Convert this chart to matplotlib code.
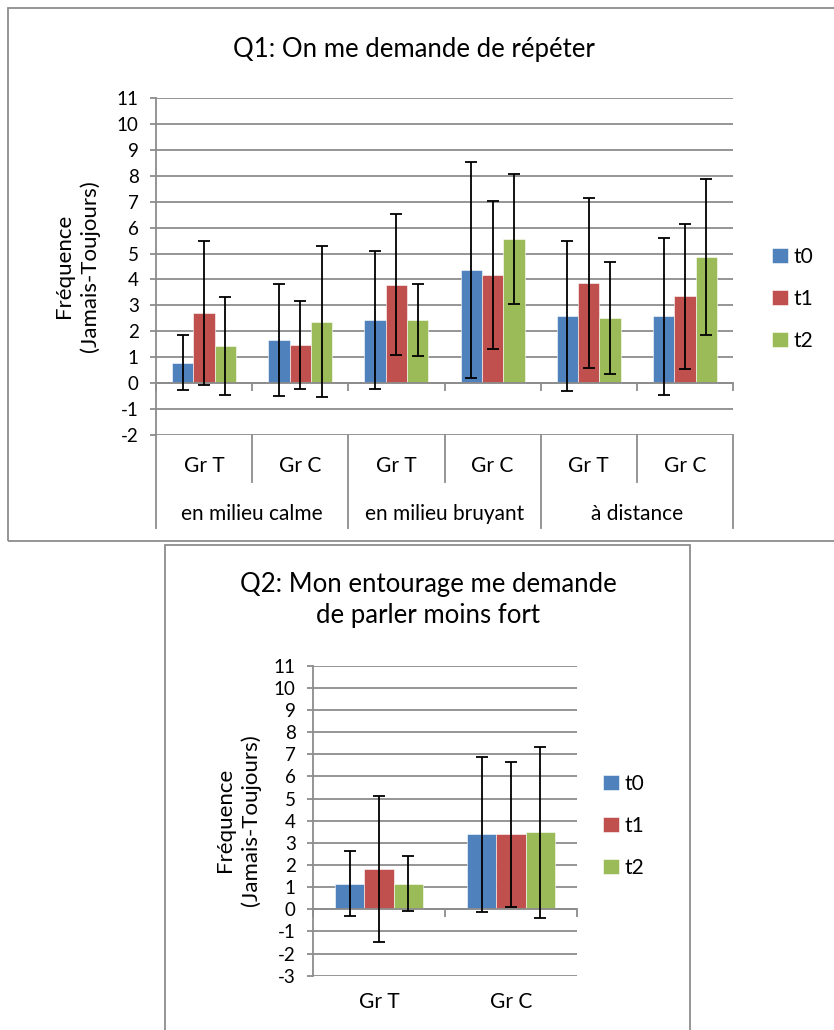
import numpy as np
import matplotlib
matplotlib.use("Agg")
import matplotlib.pyplot as plt
from matplotlib import transforms
from matplotlib.lines import Line2D
from matplotlib.patches import Rectangle

plt.rcParams['font.family'] = ['Lato', 'DejaVu Sans']
plt.rcParams['axes.unicode_minus'] = False

# Q1 data
q1_groups = ["Gr T", "Gr C", "Gr T", "Gr C", "Gr T", "Gr C"]
q1_conditions = ["en milieu calme", "en milieu bruyant", "à distance"]
q1_t0 = [0.80, 1.68, 2.44, 4.37, 2.60, 2.58]
q1_t1 = [2.71, 1.48, 3.80, 4.18, 3.88, 3.36]
q1_t2 = [1.44, 2.37, 2.44, 5.57, 2.52, 4.86]
q1_t0_err = [1.07, 2.16, 2.65, 4.17, 2.88, 3.03]
q1_t1_err = [2.79, 1.71, 2.72, 2.86, 3.27, 2.79]
q1_t2_err = [1.87, 2.91, 1.37, 2.50, 2.16, 3.00]

# Q2 data
q2_groups = ["Gr T", "Gr C"]
q2_t0 = [1.16, 3.39]
q2_t1 = [1.81, 3.39]
q2_t2 = [1.16, 3.48]
q2_t0_err = [1.47, 3.50]
q2_t1_err = [3.29, 3.27]
q2_t2_err = [1.25, 3.86]

series_names = ["t0", "t1", "t2"]
colors = ["#4F81BD", "#C0504D", "#9BBB59"]
grid_col = "#8C8C8C"
frame_col = "#8C8C8C"

W, H = 834, 1030
fig = plt.figure(figsize=(W / 100, H / 100), dpi=100)


def fy(y):
    return 1 - y / H


def px_axes(x0, y0, x1, y1):
    return fig.add_axes([x0 / W, 1 - y1 / H, (x1 - x0) / W, (y1 - y0) / H])


# outer chart frames
fig.add_artist(Rectangle((8 / W, fy(541)), 1.0, (541 - 8) / H, transform=fig.transFigure,
                         fill=False, ec=frame_col, lw=1.3))
fig.add_artist(Rectangle((165 / W, fy(1040)), (690 - 165) / W, (1040 - 545) / H,
                         transform=fig.transFigure, fill=False, ec=frame_col, lw=1.3))


def draw_bars(ax, vals, errs, ymin):
    n = len(vals[0])
    x = np.arange(n)
    w = 0.222
    for k in range(3):
        xs = x + (k - 1) * w
        ax.bar(xs, vals[k], width=w, color=colors[k], label=series_names[k],
               edgecolor="white", linewidth=0.4, zorder=2)
        ax.errorbar(xs, vals[k], yerr=errs[k], fmt='none', ecolor='black',
                    elinewidth=1.3, capsize=4.6, capthick=1.3, zorder=3)
    ax.set_xlim(-0.5, n - 0.5)
    ax.set_ylim(ymin, 11)
    ax.set_yticks(range(ymin, 12))
    ax.set_axisbelow(True)
    ax.yaxis.grid(True, color=grid_col, lw=1.3)
    for s in ["top", "right"]:
        ax.spines[s].set_visible(False)
    ax.spines["left"].set_color(grid_col)
    ax.spines["left"].set_linewidth(1.3)
    ax.spines["bottom"].set_position(("data", 0))
    ax.spines["bottom"].set_color(grid_col)
    ax.spines["bottom"].set_linewidth(1.3)
    ax.set_xticks(np.arange(-0.5, n))
    ax.tick_params(axis="x", direction="out", length=5.5, width=1.3, color=grid_col,
                   labelbottom=False)
    ax.tick_params(axis="y", direction="out", length=4.5, width=1.3, color=grid_col,
                   pad=8, labelsize=13.5)
    return x


# ---------- Q1 ----------
ax1 = px_axes(156, 97.7, 733, 435.3)
x1 = draw_bars(ax1, [q1_t0, q1_t1, q1_t2], [q1_t0_err, q1_t1_err, q1_t2_err], -2)
fig.text(414 / W, fy(50), "Q1: On me demande de répéter", ha="center", va="center", fontsize=18.5)
fig.text(77 / W, fy(266), "Fréquence\n(Jamais-Toujours)", rotation=90, ha="center",
         va="center", fontsize=16, linespacing=1.3, multialignment="center")

tr1 = transforms.blended_transform_factory(ax1.transData, fig.transFigure)
for i, lab in enumerate(q1_groups):
    ax1.text(i, fy(466), lab, transform=tr1, ha="center", va="center", fontsize=15)
for j, lab in enumerate(q1_conditions):
    ax1.text(2 * j + 0.5, fy(514), lab, transform=tr1, ha="center", va="center", fontsize=15)
for b in np.arange(-0.5, len(q1_groups)):
    bottom = 528 if int(b + 0.5) % 2 == 0 else 482
    fig.add_artist(Line2D([b, b], [fy(435.3), fy(bottom)], transform=tr1,
                          color=grid_col, lw=1.3))

ax1.legend(loc="center left", bbox_to_anchor=(772 / W, fy(299)),
           bbox_transform=fig.transFigure, frameon=False, fontsize=15,
           handlelength=0.75, handleheight=0.75, handletextpad=0.3,
           labelspacing=1.05, borderpad=0, borderaxespad=0)

# ---------- Q2 ----------
ax2 = px_axes(313, 665.7, 577, 975.7)
x2 = draw_bars(ax2, [q2_t0, q2_t1, q2_t2], [q2_t0_err, q2_t1_err, q2_t2_err], -3)
fig.text(428 / W, fy(600), "Q2: Mon entourage me demande\nde parler moins fort",
         ha="center", va="center", fontsize=18.5, linespacing=1.3)
fig.text(238 / W, fy(820), "Fréquence\n(Jamais-Toujours)", rotation=90, ha="center",
         va="center", fontsize=16, linespacing=1.3, multialignment="center")
tr2 = transforms.blended_transform_factory(ax2.transData, fig.transFigure)
for i, lab in enumerate(q2_groups):
    ax2.text(i, fy(1002), lab, transform=tr2, ha="center", va="center", fontsize=15)

ax2.legend(loc="center left", bbox_to_anchor=(603 / W, fy(826)),
           bbox_transform=fig.transFigure, frameon=False, fontsize=15,
           handlelength=0.75, handleheight=0.75, handletextpad=0.3,
           labelspacing=1.05, borderpad=0, borderaxespad=0)

fig.savefig("out.png", dpi=100)
